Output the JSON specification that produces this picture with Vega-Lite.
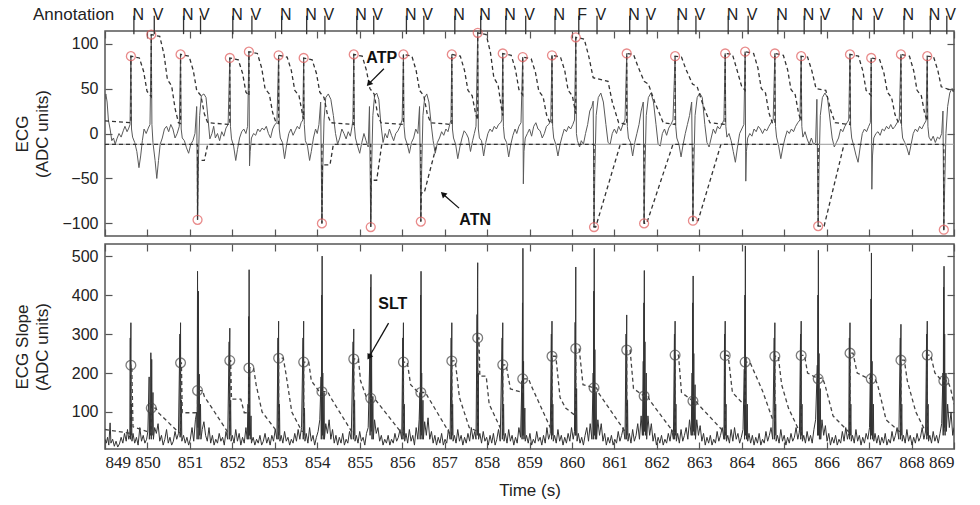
{
"$schema": "https://vega.github.io/schema/vega-lite/v6.json",
"padding": {"left": 12, "top": 5, "right": 0, "bottom": 0},
"spacing": 4,
"config": {
  "font": "Liberation Sans",
  "view": {"stroke": "#555", "strokeWidth": 1.5},
  "axis": {"grid": false, "domain": false, "tickColor": "#555", "tickWidth": 1.2, "tickSize": -7, "labelPadding": 14,
           "labelFont": "Liberation Sans", "titleFont": "Liberation Sans", "labelFontSize": 16, "titleFontSize": 17,
           "labelColor": "#222", "titleColor": "#222", "titleFontWeight": "normal"}
},
"datasets": {
"beats": [
{"t":849.61,"lab":"N","top":86,"sc":220},{"t":850.09,"lab":"V","top":110,"sc":110},{"t":850.78,"lab":"N","top":88,"sc":226},
{"t":851.18,"lab":"V","top":-96,"sc":155},{"t":851.94,"lab":"N","top":84,"sc":232},{"t":852.39,"lab":"V","top":91,"sc":213},
{"t":853.09,"lab":"N","top":87,"sc":238},{"t":853.68,"lab":"N","top":84,"sc":228},{"t":854.11,"lab":"V","top":-100,"sc":152},
{"t":854.86,"lab":"N","top":88,"sc":236},{"t":855.26,"lab":"V","top":-104,"sc":135},{"t":856.03,"lab":"N","top":88,"sc":228},
{"t":856.44,"lab":"V","top":-98,"sc":150},{"t":857.17,"lab":"N","top":88,"sc":231},{"t":857.78,"lab":"N","top":112,"sc":290},
{"t":858.37,"lab":"N","top":89,"sc":221},{"t":858.84,"lab":"V","top":85,"sc":185},{"t":859.53,"lab":"N","top":87,"sc":243},
{"t":860.09,"lab":"F","top":107,"sc":263},{"t":860.52,"lab":"V","top":-104,"sc":162},{"t":861.29,"lab":"N","top":89,"sc":259},
{"t":861.70,"lab":"V","top":-100,"sc":141},{"t":862.43,"lab":"N","top":86,"sc":246},{"t":862.85,"lab":"V","top":-97,"sc":128},
{"t":863.61,"lab":"N","top":89,"sc":245},{"t":864.08,"lab":"V","top":91,"sc":228},{"t":864.78,"lab":"N","top":89,"sc":243},
{"t":865.40,"lab":"N","top":86,"sc":245},{"t":865.80,"lab":"V","top":-103,"sc":185},{"t":866.55,"lab":"N","top":88,"sc":251},
{"t":867.05,"lab":"V","top":84,"sc":185},{"t":867.75,"lab":"N","top":88,"sc":233},{"t":868.37,"lab":"N","top":86,"sc":246},
{"t":868.76,"lab":"V","top":-107,"sc":180}
],
"ecg": [
{"t":849.00,"v":38},{"t":849.02,"v":44},{"t":849.05,"v":35},{"t":849.08,"v":15},{"t":849.12,"v":5},{"t":849.16,"v":-8},{"t":849.20,"v":-5},{"t":849.24,"v":-12},{"t":849.28,"v":-6},{"t":849.33,"v":0},{"t":849.38,"v":-4},{"t":849.43,"v":3},{"t":849.47,"v":8},{"t":849.52,"v":2},{"t":849.56,"v":6},{"t":849.59,"v":10},
{"t":849.61,"v":86},{"t":849.625,"v":5},{"t":849.65,"v":-4},{"t":849.70,"v":-10},{"t":849.75,"v":-20},{"t":849.80,"v":-38},{"t":849.84,"v":-25},{"t":849.88,"v":-8},{"t":849.92,"v":5},{"t":849.97,"v":0},{"t":850.02,"v":6},{"t":850.06,"v":10},
{"t":850.09,"v":110},{"t":850.105,"v":10},{"t":850.13,"v":-10},{"t":850.18,"v":-30},{"t":850.22,"v":-50},{"t":850.26,"v":-30},{"t":850.30,"v":-12},{"t":850.35,"v":-5},{"t":850.40,"v":5},{"t":850.45,"v":8},{"t":850.50,"v":2},{"t":850.55,"v":10},{"t":850.60,"v":5},{"t":850.65,"v":-5},{"t":850.70,"v":0},{"t":850.75,"v":8},
{"t":850.78,"v":88},{"t":850.795,"v":5},{"t":850.82,"v":-5},{"t":850.87,"v":-8},{"t":850.92,"v":-16},{"t":850.97,"v":-22},{"t":851.02,"v":-12},{"t":851.07,"v":-8},{"t":851.12,"v":0},{"t":851.16,"v":30},
{"t":851.18,"v":-96},{"t":851.20,"v":-30},{"t":851.23,"v":20},{"t":851.27,"v":42},{"t":851.33,"v":44},{"t":851.38,"v":40},{"t":851.43,"v":15},{"t":851.47,"v":-6},{"t":851.52,"v":0},{"t":851.56,"v":8},{"t":851.60,"v":-5},{"t":851.65,"v":0},{"t":851.70,"v":-8},{"t":851.75,"v":2},{"t":851.80,"v":-3},{"t":851.85,"v":6},{"t":851.90,"v":10},
{"t":851.94,"v":84},{"t":851.955,"v":8},{"t":851.98,"v":-6},{"t":852.03,"v":-14},{"t":852.08,"v":-30},{"t":852.12,"v":-18},{"t":852.17,"v":-5},{"t":852.22,"v":2},{"t":852.27,"v":5},{"t":852.32,"v":0},{"t":852.36,"v":8},
{"t":852.39,"v":91},{"t":852.405,"v":-36},{"t":852.42,"v":-20},{"t":852.45,"v":-5},{"t":852.50,"v":0},{"t":852.55,"v":-2},{"t":852.60,"v":5},{"t":852.65,"v":2},{"t":852.70,"v":6},{"t":852.75,"v":4},{"t":852.80,"v":8},{"t":852.85,"v":0},{"t":852.90,"v":-5},{"t":852.95,"v":5},{"t":853.00,"v":10},{"t":853.05,"v":12},
{"t":853.09,"v":87},{"t":853.105,"v":5},{"t":853.13,"v":-5},{"t":853.18,"v":-10},{"t":853.23,"v":-28},{"t":853.28,"v":-12},{"t":853.33,"v":0},{"t":853.38,"v":5},{"t":853.43,"v":-2},{"t":853.48,"v":3},{"t":853.53,"v":8},{"t":853.58,"v":5},{"t":853.62,"v":12},{"t":853.66,"v":15},
{"t":853.68,"v":84},{"t":853.695,"v":10},{"t":853.72,"v":-8},{"t":853.77,"v":-14},{"t":853.82,"v":-30},{"t":853.86,"v":-20},{"t":853.91,"v":-5},{"t":853.96,"v":5},{"t":854.00,"v":0},{"t":854.04,"v":10},{"t":854.08,"v":35},
{"t":854.11,"v":-100},{"t":854.13,"v":-40},{"t":854.16,"v":15},{"t":854.20,"v":40},{"t":854.26,"v":44},{"t":854.32,"v":38},{"t":854.38,"v":20},{"t":854.43,"v":0},{"t":854.48,"v":-12},{"t":854.53,"v":-5},{"t":854.58,"v":5},{"t":854.63,"v":0},{"t":854.68,"v":-6},{"t":854.73,"v":2},{"t":854.78,"v":-3},{"t":854.82,"v":8},{"t":854.84,"v":15},
{"t":854.86,"v":88},{"t":854.875,"v":8},{"t":854.90,"v":-5},{"t":854.95,"v":-14},{"t":855.00,"v":-22},{"t":855.05,"v":-10},{"t":855.10,"v":0},{"t":855.15,"v":-8},{"t":855.20,"v":-15},{"t":855.23,"v":30},
{"t":855.26,"v":-104},{"t":855.28,"v":-40},{"t":855.31,"v":20},{"t":855.35,"v":42},{"t":855.40,"v":45},{"t":855.45,"v":38},{"t":855.50,"v":10},{"t":855.55,"v":-10},{"t":855.60,"v":0},{"t":855.65,"v":-5},{"t":855.70,"v":5},{"t":855.75,"v":-2},{"t":855.80,"v":-8},{"t":855.85,"v":0},{"t":855.90,"v":3},{"t":855.95,"v":8},{"t":856.00,"v":15},
{"t":856.03,"v":88},{"t":856.045,"v":8},{"t":856.07,"v":-5},{"t":856.12,"v":-12},{"t":856.17,"v":-22},{"t":856.22,"v":-10},{"t":856.27,"v":-5},{"t":856.32,"v":5},{"t":856.37,"v":0},{"t":856.41,"v":30},
{"t":856.44,"v":-98},{"t":856.46,"v":-40},{"t":856.49,"v":20},{"t":856.53,"v":40},{"t":856.58,"v":44},{"t":856.63,"v":35},{"t":856.68,"v":12},{"t":856.73,"v":-8},{"t":856.78,"v":-22},{"t":856.83,"v":-10},{"t":856.88,"v":-5},{"t":856.93,"v":2},{"t":856.98,"v":-2},{"t":857.03,"v":5},{"t":857.08,"v":2},{"t":857.12,"v":10},{"t":857.15,"v":15},
{"t":857.17,"v":88},{"t":857.185,"v":5},{"t":857.21,"v":-5},{"t":857.26,"v":-12},{"t":857.31,"v":-28},{"t":857.36,"v":-15},{"t":857.41,"v":-5},{"t":857.46,"v":3},{"t":857.51,"v":0},{"t":857.56,"v":-5},{"t":857.61,"v":-20},{"t":857.66,"v":-8},{"t":857.70,"v":0},{"t":857.74,"v":8},
{"t":857.78,"v":112},{"t":857.795,"v":5},{"t":857.82,"v":-5},{"t":857.87,"v":-8},{"t":857.92,"v":-25},{"t":857.97,"v":-10},{"t":858.02,"v":0},{"t":858.07,"v":5},{"t":858.12,"v":2},{"t":858.17,"v":8},{"t":858.22,"v":5},{"t":858.27,"v":10},{"t":858.32,"v":12},{"t":858.35,"v":15},
{"t":858.37,"v":89},{"t":858.385,"v":8},{"t":858.41,"v":-5},{"t":858.46,"v":-10},{"t":858.51,"v":-26},{"t":858.56,"v":-12},{"t":858.61,"v":-2},{"t":858.66,"v":5},{"t":858.70,"v":0},{"t":858.75,"v":8},{"t":858.80,"v":12},
{"t":858.84,"v":85},{"t":858.855,"v":-56},{"t":858.87,"v":-20},{"t":858.90,"v":-5},{"t":858.95,"v":0},{"t":859.00,"v":5},{"t":859.05,"v":-3},{"t":859.10,"v":8},{"t":859.15,"v":12},{"t":859.20,"v":5},{"t":859.25,"v":3},{"t":859.30,"v":-5},{"t":859.35,"v":0},{"t":859.40,"v":8},{"t":859.45,"v":10},{"t":859.50,"v":14},
{"t":859.53,"v":87},{"t":859.545,"v":8},{"t":859.57,"v":-5},{"t":859.62,"v":-12},{"t":859.67,"v":-25},{"t":859.72,"v":-12},{"t":859.77,"v":-3},{"t":859.82,"v":5},{"t":859.87,"v":2},{"t":859.92,"v":8},{"t":859.97,"v":5},{"t":860.02,"v":10},{"t":860.06,"v":15},
{"t":860.09,"v":107},{"t":860.105,"v":0},{"t":860.13,"v":-8},{"t":860.18,"v":-15},{"t":860.22,"v":-8},{"t":860.27,"v":-12},{"t":860.32,"v":0},{"t":860.37,"v":10},{"t":860.42,"v":25},{"t":860.47,"v":30},{"t":860.50,"v":36},
{"t":860.52,"v":-104},{"t":860.54,"v":-40},{"t":860.57,"v":20},{"t":860.62,"v":40},{"t":860.68,"v":45},{"t":860.74,"v":35},{"t":860.80,"v":10},{"t":860.85,"v":-10},{"t":860.90,"v":-12},{"t":860.95,"v":0},{"t":861.00,"v":5},{"t":861.05,"v":0},{"t":861.10,"v":8},{"t":861.15,"v":3},{"t":861.20,"v":10},{"t":861.25,"v":15},
{"t":861.29,"v":89},{"t":861.305,"v":8},{"t":861.33,"v":-5},{"t":861.38,"v":-10},{"t":861.43,"v":-25},{"t":861.48,"v":-10},{"t":861.53,"v":0},{"t":861.58,"v":10},{"t":861.63,"v":25},{"t":861.68,"v":35},
{"t":861.70,"v":-100},{"t":861.72,"v":-40},{"t":861.75,"v":20},{"t":861.80,"v":40},{"t":861.86,"v":45},{"t":861.92,"v":35},{"t":861.98,"v":10},{"t":862.03,"v":-12},{"t":862.08,"v":-14},{"t":862.13,"v":0},{"t":862.18,"v":5},{"t":862.23,"v":-2},{"t":862.28,"v":6},{"t":862.33,"v":10},{"t":862.38,"v":15},
{"t":862.43,"v":86},{"t":862.445,"v":8},{"t":862.47,"v":-5},{"t":862.52,"v":-12},{"t":862.57,"v":-26},{"t":862.62,"v":-12},{"t":862.67,"v":0},{"t":862.72,"v":10},{"t":862.77,"v":20},{"t":862.82,"v":35},
{"t":862.85,"v":-97},{"t":862.87,"v":-40},{"t":862.90,"v":20},{"t":862.95,"v":40},{"t":863.01,"v":45},{"t":863.07,"v":40},{"t":863.13,"v":10},{"t":863.18,"v":-10},{"t":863.23,"v":-15},{"t":863.28,"v":-5},{"t":863.33,"v":5},{"t":863.38,"v":0},{"t":863.43,"v":8},{"t":863.48,"v":5},{"t":863.53,"v":10},{"t":863.58,"v":15},
{"t":863.61,"v":89},{"t":863.625,"v":8},{"t":863.65,"v":-4},{"t":863.70,"v":0},{"t":863.75,"v":-8},{"t":863.80,"v":-20},{"t":863.85,"v":-32},{"t":863.90,"v":-15},{"t":863.95,"v":0},{"t":864.00,"v":5},{"t":864.05,"v":10},
{"t":864.08,"v":91},{"t":864.095,"v":-53},{"t":864.11,"v":-20},{"t":864.14,"v":-5},{"t":864.19,"v":0},{"t":864.24,"v":-3},{"t":864.29,"v":5},{"t":864.34,"v":2},{"t":864.39,"v":8},{"t":864.44,"v":5},{"t":864.49,"v":0},{"t":864.54,"v":5},{"t":864.59,"v":3},{"t":864.64,"v":8},{"t":864.69,"v":12},{"t":864.74,"v":15},
{"t":864.78,"v":89},{"t":864.795,"v":8},{"t":864.82,"v":-4},{"t":864.87,"v":-14},{"t":864.92,"v":-28},{"t":864.97,"v":-15},{"t":865.02,"v":-5},{"t":865.07,"v":3},{"t":865.12,"v":0},{"t":865.17,"v":5},{"t":865.22,"v":2},{"t":865.27,"v":8},{"t":865.32,"v":12},{"t":865.37,"v":15},
{"t":865.40,"v":86},{"t":865.415,"v":8},{"t":865.44,"v":-4},{"t":865.49,"v":2},{"t":865.54,"v":-6},{"t":865.59,"v":-12},{"t":865.64,"v":-5},{"t":865.69,"v":-12},{"t":865.74,"v":-10},{"t":865.77,"v":38},
{"t":865.80,"v":-103},{"t":865.82,"v":-40},{"t":865.85,"v":20},{"t":865.90,"v":40},{"t":865.96,"v":45},{"t":866.02,"v":40},{"t":866.08,"v":15},{"t":866.13,"v":-5},{"t":866.18,"v":-15},{"t":866.23,"v":-10},{"t":866.28,"v":-5},{"t":866.33,"v":5},{"t":866.38,"v":2},{"t":866.43,"v":8},{"t":866.48,"v":12},{"t":866.52,"v":15},
{"t":866.55,"v":88},{"t":866.565,"v":8},{"t":866.59,"v":-5},{"t":866.64,"v":-14},{"t":866.69,"v":-24},{"t":866.74,"v":-32},{"t":866.79,"v":-15},{"t":866.84,"v":0},{"t":866.89,"v":5},{"t":866.94,"v":2},{"t":866.99,"v":8},{"t":867.03,"v":12},
{"t":867.05,"v":84},{"t":867.065,"v":-62},{"t":867.08,"v":-25},{"t":867.11,"v":-5},{"t":867.16,"v":0},{"t":867.21,"v":2},{"t":867.26,"v":-2},{"t":867.31,"v":5},{"t":867.36,"v":3},{"t":867.41,"v":8},{"t":867.46,"v":5},{"t":867.51,"v":10},{"t":867.56,"v":5},{"t":867.61,"v":8},{"t":867.66,"v":12},{"t":867.71,"v":15},
{"t":867.75,"v":88},{"t":867.765,"v":8},{"t":867.79,"v":-5},{"t":867.84,"v":-10},{"t":867.89,"v":-16},{"t":867.94,"v":-24},{"t":867.99,"v":-12},{"t":868.04,"v":0},{"t":868.09,"v":5},{"t":868.14,"v":2},{"t":868.19,"v":8},{"t":868.24,"v":5},{"t":868.29,"v":10},{"t":868.34,"v":14},
{"t":868.37,"v":86},{"t":868.385,"v":8},{"t":868.41,"v":-4},{"t":868.46,"v":-8},{"t":868.51,"v":-3},{"t":868.56,"v":-10},{"t":868.61,"v":-4},{"t":868.66,"v":-6},{"t":868.71,"v":0},{"t":868.74,"v":25},
{"t":868.76,"v":-107},{"t":868.78,"v":-60},{"t":868.81,"v":0},{"t":868.85,"v":30},{"t":868.90,"v":45},{"t":868.95,"v":50},{"t":869.00,"v":48}
],
"atp": [
{"t":849.00,"v":14},{"t":849.61,"v":12},{"t":849.61,"v":86},{"t":849.81,"v":84},{"t":849.91,"v":69},{"t":849.99,"v":47},{"t":850.09,"v":41},{"t":850.09,"v":110},
{"t":850.29,"v":108},{"t":850.39,"v":88},{"t":850.47,"v":60},{"t":850.57,"v":53},{"t":850.65,"v":28},{"t":850.73,"v":12},{"t":850.78,"v":11},{"t":850.78,"v":88},
{"t":850.98,"v":86},{"t":851.08,"v":70},{"t":851.16,"v":48},{"t":851.26,"v":42},{"t":851.34,"v":22},{"t":851.42,"v":12},{"t":851.94,"v":10},{"t":851.94,"v":84},
{"t":852.14,"v":82},{"t":852.24,"v":67},{"t":852.32,"v":46},{"t":852.39,"v":42},{"t":852.39,"v":91},
{"t":852.59,"v":89},{"t":852.69,"v":73},{"t":852.77,"v":50},{"t":852.87,"v":44},{"t":852.95,"v":23},{"t":853.03,"v":12},{"t":853.09,"v":11},{"t":853.09,"v":87},
{"t":853.29,"v":85},{"t":853.39,"v":70},{"t":853.47,"v":48},{"t":853.57,"v":42},{"t":853.65,"v":22},{"t":853.68,"v":16},{"t":853.68,"v":84},
{"t":853.88,"v":82},{"t":853.98,"v":67},{"t":854.06,"v":46},{"t":854.16,"v":40},{"t":854.24,"v":21},{"t":854.32,"v":12},{"t":854.86,"v":10},{"t":854.86,"v":88},
{"t":855.06,"v":86},{"t":855.16,"v":70},{"t":855.24,"v":50},{"t":855.34,"v":44},{"t":855.42,"v":22},{"t":855.50,"v":12},{"t":856.03,"v":10},{"t":856.03,"v":88},
{"t":856.23,"v":86},{"t":856.33,"v":70},{"t":856.41,"v":48},{"t":856.51,"v":42},{"t":856.59,"v":22},{"t":856.67,"v":12},{"t":857.17,"v":10},{"t":857.17,"v":88},
{"t":857.37,"v":86},{"t":857.47,"v":70},{"t":857.55,"v":48},{"t":857.65,"v":42},{"t":857.73,"v":22},{"t":857.78,"v":15},{"t":857.78,"v":112},
{"t":857.98,"v":110},{"t":858.08,"v":90},{"t":858.16,"v":62},{"t":858.26,"v":54},{"t":858.34,"v":28},{"t":858.37,"v":20},{"t":858.37,"v":89},
{"t":858.57,"v":87},{"t":858.67,"v":71},{"t":858.75,"v":49},{"t":858.84,"v":43},{"t":858.84,"v":85},
{"t":859.04,"v":83},{"t":859.14,"v":68},{"t":859.22,"v":47},{"t":859.32,"v":41},{"t":859.40,"v":21},{"t":859.48,"v":12},{"t":859.53,"v":11},{"t":859.53,"v":87},
{"t":859.73,"v":85},{"t":859.83,"v":70},{"t":859.91,"v":48},{"t":860.01,"v":42},{"t":860.09,"v":22},{"t":860.09,"v":107},
{"t":860.29,"v":105},{"t":860.40,"v":85},{"t":860.50,"v":62},{"t":860.85,"v":58},{"t":860.95,"v":35},{"t":861.10,"v":12},{"t":861.29,"v":10},{"t":861.29,"v":89},
{"t":861.45,"v":88},{"t":861.55,"v":75},{"t":861.70,"v":58},{"t":861.80,"v":55},{"t":861.95,"v":35},{"t":862.15,"v":12},{"t":862.43,"v":10},{"t":862.43,"v":86},
{"t":862.58,"v":85},{"t":862.68,"v":72},{"t":862.84,"v":55},{"t":862.95,"v":52},{"t":863.10,"v":30},{"t":863.25,"v":12},{"t":863.61,"v":10},{"t":863.61,"v":89},
{"t":863.78,"v":88},{"t":863.88,"v":72},{"t":864.00,"v":52},{"t":864.08,"v":48},{"t":864.08,"v":91},
{"t":864.28,"v":89},{"t":864.38,"v":73},{"t":864.46,"v":50},{"t":864.56,"v":45},{"t":864.64,"v":23},{"t":864.72,"v":12},{"t":864.78,"v":11},{"t":864.78,"v":89},
{"t":864.98,"v":87},{"t":865.08,"v":71},{"t":865.16,"v":49},{"t":865.26,"v":43},{"t":865.34,"v":22},{"t":865.40,"v":14},{"t":865.40,"v":86},
{"t":865.55,"v":85},{"t":865.65,"v":70},{"t":865.75,"v":50},{"t":865.98,"v":48},{"t":866.10,"v":25},{"t":866.20,"v":12},{"t":866.55,"v":10},{"t":866.55,"v":88},
{"t":866.75,"v":86},{"t":866.85,"v":70},{"t":866.93,"v":48},{"t":867.05,"v":42},{"t":867.05,"v":84},
{"t":867.25,"v":82},{"t":867.35,"v":67},{"t":867.43,"v":46},{"t":867.53,"v":40},{"t":867.61,"v":21},{"t":867.69,"v":12},{"t":867.75,"v":11},{"t":867.75,"v":88},
{"t":867.95,"v":86},{"t":868.05,"v":70},{"t":868.13,"v":48},{"t":868.23,"v":42},{"t":868.31,"v":22},{"t":868.37,"v":14},{"t":868.37,"v":86},
{"t":868.52,"v":85},{"t":868.62,"v":70},{"t":868.70,"v":52},{"t":869.00,"v":47}
],
"atn": [
{"t":849.00,"v":-12},{"t":851.18,"v":-12},{"t":851.18,"v":-96},{"t":851.19,"v":-30},{"t":851.34,"v":-30},{"t":851.42,"v":-12},
{"t":854.11,"v":-12},{"t":854.11,"v":-100},{"t":854.12,"v":-35},{"t":854.30,"v":-35},{"t":854.38,"v":-12},
{"t":855.26,"v":-12},{"t":855.26,"v":-104},{"t":855.27,"v":-52},{"t":855.40,"v":-52},{"t":855.52,"v":-12},
{"t":856.44,"v":-12},{"t":856.44,"v":-98},{"t":856.45,"v":-66},{"t":856.52,"v":-66},{"t":856.80,"v":-15},{"t":856.84,"v":-12},
{"t":860.52,"v":-12},{"t":860.52,"v":-104},{"t":860.56,"v":-104},{"t":861.14,"v":-12},
{"t":861.70,"v":-12},{"t":861.70,"v":-100},{"t":861.76,"v":-100},{"t":862.38,"v":-12},
{"t":862.85,"v":-12},{"t":862.85,"v":-97},{"t":862.97,"v":-97},{"t":863.51,"v":-12},
{"t":865.80,"v":-12},{"t":865.80,"v":-103},{"t":865.94,"v":-103},{"t":866.41,"v":-12},
{"t":868.76,"v":-12},{"t":868.76,"v":-107},{"t":868.80,"v":-107}
],
"slope": [
{"t":849.00,"v":30},{"t":849.03,"v":20},{"t":849.06,"v":35},{"t":849.09,"v":15},{"t":849.12,"v":72},{"t":849.14,"v":20},{"t":849.18,"v":30},{"t":849.22,"v":12},{"t":849.26,"v":25},{"t":849.30,"v":10},{"t":849.34,"v":18},{"t":849.38,"v":35},{"t":849.42,"v":20},{"t":849.46,"v":45},{"t":849.50,"v":25},{"t":849.53,"v":55},{"t":849.56,"v":30},
{"t":849.585,"v":40},{"t":849.595,"v":290},{"t":849.60,"v":30},{"t":849.605,"v":250},{"t":849.61,"v":329},{"t":849.615,"v":40},{"t":849.625,"v":120},{"t":849.635,"v":25},
{"t":849.66,"v":45},{"t":849.70,"v":20},{"t":849.74,"v":35},{"t":849.78,"v":15},{"t":849.82,"v":60},{"t":849.86,"v":25},{"t":849.90,"v":40},{"t":849.94,"v":20},{"t":849.98,"v":30},{"t":850.01,"v":50},
{"t":850.04,"v":190},{"t":850.045,"v":30},{"t":850.06,"v":100},{"t":850.07,"v":40},{"t":850.08,"v":252},{"t":850.09,"v":30},{"t":850.10,"v":235},{"t":850.11,"v":40},{"t":850.13,"v":150},{"t":850.14,"v":30},
{"t":850.17,"v":60},{"t":850.21,"v":45},{"t":850.25,"v":70},{"t":850.29,"v":25},{"t":850.33,"v":40},{"t":850.37,"v":15},{"t":850.41,"v":30},{"t":850.45,"v":55},{"t":850.49,"v":20},{"t":850.53,"v":35},{"t":850.57,"v":15},{"t":850.61,"v":25},{"t":850.65,"v":50},{"t":850.69,"v":30},{"t":850.73,"v":45},
{"t":850.765,"v":300},{"t":850.77,"v":35},{"t":850.775,"v":260},{"t":850.78,"v":329},{"t":850.785,"v":40},{"t":850.80,"v":130},{"t":850.81,"v":25},
{"t":850.85,"v":40},{"t":850.89,"v":20},{"t":850.93,"v":35},{"t":850.97,"v":15},{"t":851.01,"v":30},{"t":851.05,"v":60},{"t":851.09,"v":25},{"t":851.13,"v":80},
{"t":851.16,"v":100},{"t":851.17,"v":30},{"t":851.18,"v":461},{"t":851.19,"v":60},{"t":851.20,"v":410},{"t":851.21,"v":30},{"t":851.22,"v":197},{"t":851.23,"v":40},{"t":851.25,"v":120},{"t":851.26,"v":30},
{"t":851.29,"v":55},{"t":851.33,"v":75},{"t":851.37,"v":40},{"t":851.41,"v":25},{"t":851.45,"v":60},{"t":851.49,"v":20},{"t":851.53,"v":40},{"t":851.57,"v":15},{"t":851.61,"v":30},{"t":851.65,"v":20},{"t":851.69,"v":45},{"t":851.73,"v":25},{"t":851.77,"v":35},{"t":851.81,"v":15},{"t":851.85,"v":50},{"t":851.89,"v":30},
{"t":851.925,"v":280},{"t":851.93,"v":30},{"t":851.935,"v":260},{"t":851.94,"v":315},{"t":851.945,"v":40},{"t":851.96,"v":130},{"t":851.97,"v":25},
{"t":852.00,"v":40},{"t":852.04,"v":20},{"t":852.08,"v":55},{"t":852.12,"v":25},{"t":852.16,"v":45},{"t":852.20,"v":15},{"t":852.24,"v":35},{"t":852.28,"v":20},{"t":852.32,"v":60},{"t":852.35,"v":30},
{"t":852.37,"v":120},{"t":852.375,"v":30},{"t":852.385,"v":345},{"t":852.39,"v":40},{"t":852.395,"v":465},{"t":852.40,"v":40},{"t":852.41,"v":210},{"t":852.42,"v":30},{"t":852.44,"v":90},{"t":852.45,"v":20},
{"t":852.49,"v":35},{"t":852.53,"v":15},{"t":852.57,"v":30},{"t":852.61,"v":20},{"t":852.65,"v":40},{"t":852.69,"v":15},{"t":852.73,"v":25},{"t":852.77,"v":45},{"t":852.81,"v":20},{"t":852.85,"v":35},{"t":852.89,"v":15},{"t":852.93,"v":40},{"t":852.97,"v":25},{"t":853.01,"v":55},{"t":853.05,"v":30},
{"t":853.075,"v":290},{"t":853.08,"v":30},{"t":853.085,"v":270},{"t":853.09,"v":333},{"t":853.095,"v":40},{"t":853.11,"v":120},{"t":853.12,"v":25},
{"t":853.15,"v":40},{"t":853.19,"v":20},{"t":853.23,"v":50},{"t":853.27,"v":25},{"t":853.31,"v":35},{"t":853.35,"v":15},{"t":853.39,"v":30},{"t":853.43,"v":20},{"t":853.47,"v":45},{"t":853.51,"v":25},{"t":853.55,"v":55},{"t":853.59,"v":30},{"t":853.63,"v":60},
{"t":853.665,"v":290},{"t":853.67,"v":30},{"t":853.675,"v":270},{"t":853.68,"v":333},{"t":853.685,"v":40},{"t":853.70,"v":110},{"t":853.71,"v":25},
{"t":853.74,"v":45},{"t":853.78,"v":20},{"t":853.82,"v":60},{"t":853.86,"v":25},{"t":853.90,"v":40},{"t":853.94,"v":15},{"t":853.98,"v":35},{"t":854.02,"v":50},{"t":854.06,"v":80},
{"t":854.09,"v":190},{"t":854.095,"v":30},{"t":854.105,"v":400},{"t":854.11,"v":50},{"t":854.115,"v":500},{"t":854.12,"v":40},{"t":854.13,"v":200},{"t":854.14,"v":30},{"t":854.16,"v":150},{"t":854.17,"v":30},
{"t":854.20,"v":70},{"t":854.24,"v":45},{"t":854.28,"v":80},{"t":854.32,"v":30},{"t":854.36,"v":55},{"t":854.40,"v":20},{"t":854.44,"v":40},{"t":854.48,"v":15},{"t":854.52,"v":35},{"t":854.56,"v":20},{"t":854.60,"v":45},{"t":854.64,"v":15},{"t":854.68,"v":30},{"t":854.72,"v":20},{"t":854.76,"v":50},{"t":854.80,"v":30},
{"t":854.845,"v":280},{"t":854.85,"v":30},{"t":854.855,"v":240},{"t":854.86,"v":313},{"t":854.865,"v":40},{"t":854.88,"v":130},{"t":854.89,"v":25},
{"t":854.92,"v":40},{"t":854.96,"v":20},{"t":855.00,"v":50},{"t":855.04,"v":25},{"t":855.08,"v":35},{"t":855.12,"v":15},{"t":855.16,"v":45},{"t":855.20,"v":60},
{"t":855.24,"v":250},{"t":855.245,"v":40},{"t":855.255,"v":420},{"t":855.26,"v":60},{"t":855.265,"v":453},{"t":855.27,"v":50},{"t":855.28,"v":250},{"t":855.29,"v":30},{"t":855.31,"v":140},{"t":855.32,"v":30},
{"t":855.35,"v":80},{"t":855.39,"v":45},{"t":855.43,"v":60},{"t":855.47,"v":25},{"t":855.51,"v":40},{"t":855.55,"v":15},{"t":855.59,"v":30},{"t":855.63,"v":20},{"t":855.67,"v":40},{"t":855.71,"v":15},{"t":855.75,"v":30},{"t":855.79,"v":20},{"t":855.83,"v":45},{"t":855.87,"v":25},{"t":855.91,"v":35},{"t":855.95,"v":55},{"t":855.99,"v":30},
{"t":856.015,"v":290},{"t":856.02,"v":30},{"t":856.025,"v":260},{"t":856.03,"v":329},{"t":856.035,"v":40},{"t":856.05,"v":120},{"t":856.06,"v":25},
{"t":856.09,"v":45},{"t":856.13,"v":20},{"t":856.17,"v":55},{"t":856.21,"v":25},{"t":856.25,"v":40},{"t":856.29,"v":15},{"t":856.33,"v":60},{"t":856.37,"v":30},{"t":856.40,"v":80},
{"t":856.42,"v":150},{"t":856.425,"v":30},{"t":856.435,"v":400},{"t":856.44,"v":50},{"t":856.445,"v":461},{"t":856.45,"v":40},{"t":856.46,"v":200},{"t":856.47,"v":30},{"t":856.49,"v":130},{"t":856.50,"v":30},
{"t":856.53,"v":75},{"t":856.57,"v":40},{"t":856.61,"v":85},{"t":856.65,"v":30},{"t":856.69,"v":50},{"t":856.73,"v":20},{"t":856.77,"v":40},{"t":856.81,"v":15},{"t":856.85,"v":35},{"t":856.89,"v":20},{"t":856.93,"v":45},{"t":856.97,"v":15},{"t":857.01,"v":30},{"t":857.05,"v":20},{"t":857.09,"v":55},{"t":857.13,"v":30},
{"t":857.155,"v":290},{"t":857.16,"v":30},{"t":857.165,"v":260},{"t":857.17,"v":329},{"t":857.175,"v":40},{"t":857.19,"v":120},{"t":857.20,"v":25},
{"t":857.23,"v":40},{"t":857.27,"v":20},{"t":857.31,"v":55},{"t":857.35,"v":25},{"t":857.39,"v":40},{"t":857.43,"v":15},{"t":857.47,"v":35},{"t":857.51,"v":20},{"t":857.55,"v":45},{"t":857.59,"v":25},{"t":857.63,"v":60},{"t":857.67,"v":30},{"t":857.71,"v":50},{"t":857.74,"v":30},
{"t":857.765,"v":350},{"t":857.77,"v":40},{"t":857.775,"v":420},{"t":857.78,"v":483},{"t":857.785,"v":50},{"t":857.795,"v":200},{"t":857.80,"v":30},
{"t":857.83,"v":45},{"t":857.87,"v":20},{"t":857.91,"v":50},{"t":857.95,"v":25},{"t":857.99,"v":35},{"t":858.03,"v":15},{"t":858.07,"v":40},{"t":858.11,"v":20},{"t":858.15,"v":45},{"t":858.19,"v":15},{"t":858.23,"v":30},{"t":858.27,"v":55},{"t":858.31,"v":25},
{"t":858.355,"v":290},{"t":858.36,"v":30},{"t":858.365,"v":260},{"t":858.37,"v":329},{"t":858.375,"v":40},{"t":858.39,"v":120},{"t":858.40,"v":25},
{"t":858.43,"v":45},{"t":858.47,"v":20},{"t":858.51,"v":55},{"t":858.55,"v":25},{"t":858.59,"v":40},{"t":858.63,"v":15},{"t":858.67,"v":35},{"t":858.71,"v":20},{"t":858.75,"v":60},{"t":858.79,"v":35},
{"t":858.82,"v":180},{"t":858.825,"v":30},{"t":858.835,"v":380},{"t":858.84,"v":40},{"t":858.845,"v":520},{"t":858.85,"v":40},{"t":858.86,"v":230},{"t":858.87,"v":30},{"t":858.89,"v":110},{"t":858.90,"v":25},
{"t":858.93,"v":40},{"t":858.97,"v":20},{"t":859.01,"v":45},{"t":859.05,"v":15},{"t":859.09,"v":30},{"t":859.13,"v":20},{"t":859.17,"v":50},{"t":859.21,"v":25},{"t":859.25,"v":35},{"t":859.29,"v":15},{"t":859.33,"v":40},{"t":859.37,"v":20},{"t":859.41,"v":60},{"t":859.45,"v":30},{"t":859.49,"v":45},
{"t":859.515,"v":300},{"t":859.52,"v":30},{"t":859.525,"v":270},{"t":859.53,"v":333},{"t":859.535,"v":40},{"t":859.55,"v":120},{"t":859.56,"v":25},
{"t":859.59,"v":40},{"t":859.63,"v":20},{"t":859.67,"v":55},{"t":859.71,"v":25},{"t":859.75,"v":40},{"t":859.79,"v":15},{"t":859.83,"v":35},{"t":859.87,"v":20},{"t":859.91,"v":45},{"t":859.95,"v":25},{"t":859.99,"v":60},{"t":860.03,"v":30},{"t":860.06,"v":50},
{"t":860.075,"v":330},{"t":860.08,"v":40},{"t":860.085,"v":300},{"t":860.09,"v":472},{"t":860.095,"v":40},{"t":860.11,"v":160},{"t":860.12,"v":25},
{"t":860.15,"v":45},{"t":860.19,"v":20},{"t":860.23,"v":35},{"t":860.27,"v":15},{"t":860.31,"v":40},{"t":860.35,"v":60},{"t":860.39,"v":25},{"t":860.43,"v":70},{"t":860.47,"v":30},
{"t":860.50,"v":200},{"t":860.505,"v":30},{"t":860.515,"v":410},{"t":860.52,"v":50},{"t":860.525,"v":520},{"t":860.53,"v":40},{"t":860.54,"v":260},{"t":860.55,"v":30},{"t":860.57,"v":150},{"t":860.58,"v":30},
{"t":860.61,"v":80},{"t":860.65,"v":40},{"t":860.69,"v":70},{"t":860.73,"v":25},{"t":860.77,"v":45},{"t":860.81,"v":15},{"t":860.85,"v":35},{"t":860.89,"v":20},{"t":860.93,"v":40},{"t":860.97,"v":15},{"t":861.01,"v":30},{"t":861.05,"v":20},{"t":861.09,"v":50},{"t":861.13,"v":25},{"t":861.17,"v":40},{"t":861.21,"v":60},{"t":861.25,"v":30},
{"t":861.275,"v":300},{"t":861.28,"v":30},{"t":861.285,"v":270},{"t":861.29,"v":349},{"t":861.295,"v":40},{"t":861.31,"v":130},{"t":861.32,"v":25},
{"t":861.35,"v":45},{"t":861.39,"v":20},{"t":861.43,"v":55},{"t":861.47,"v":25},{"t":861.51,"v":40},{"t":861.55,"v":70},{"t":861.59,"v":30},{"t":861.63,"v":90},{"t":861.66,"v":40},
{"t":861.68,"v":230},{"t":861.685,"v":40},{"t":861.695,"v":380},{"t":861.70,"v":60},{"t":861.705,"v":463},{"t":861.71,"v":50},{"t":861.72,"v":280},{"t":861.73,"v":40},{"t":861.75,"v":200},{"t":861.76,"v":30},
{"t":861.79,"v":90},{"t":861.83,"v":40},{"t":861.87,"v":70},{"t":861.91,"v":25},{"t":861.95,"v":45},{"t":861.99,"v":15},{"t":862.03,"v":35},{"t":862.07,"v":20},{"t":862.11,"v":40},{"t":862.15,"v":15},{"t":862.19,"v":30},{"t":862.23,"v":20},{"t":862.27,"v":45},{"t":862.31,"v":25},{"t":862.35,"v":55},{"t":862.39,"v":30},
{"t":862.415,"v":300},{"t":862.42,"v":30},{"t":862.425,"v":270},{"t":862.43,"v":333},{"t":862.435,"v":40},{"t":862.45,"v":120},{"t":862.46,"v":25},
{"t":862.49,"v":45},{"t":862.53,"v":20},{"t":862.57,"v":55},{"t":862.61,"v":25},{"t":862.65,"v":40},{"t":862.69,"v":60},{"t":862.73,"v":30},{"t":862.77,"v":80},{"t":862.81,"v":40},
{"t":862.83,"v":200},{"t":862.835,"v":40},{"t":862.845,"v":380},{"t":862.85,"v":60},{"t":862.855,"v":449},{"t":862.86,"v":50},{"t":862.87,"v":250},{"t":862.88,"v":40},{"t":862.90,"v":170},{"t":862.91,"v":30},
{"t":862.94,"v":80},{"t":862.98,"v":40},{"t":863.02,"v":65},{"t":863.06,"v":25},{"t":863.10,"v":45},{"t":863.14,"v":15},{"t":863.18,"v":35},{"t":863.22,"v":20},{"t":863.26,"v":40},{"t":863.30,"v":15},{"t":863.34,"v":30},{"t":863.38,"v":20},{"t":863.42,"v":50},{"t":863.46,"v":25},{"t":863.50,"v":40},{"t":863.54,"v":60},{"t":863.58,"v":30},
{"t":863.595,"v":300},{"t":863.60,"v":30},{"t":863.605,"v":270},{"t":863.61,"v":333},{"t":863.615,"v":40},{"t":863.63,"v":120},{"t":863.64,"v":25},
{"t":863.67,"v":40},{"t":863.71,"v":20},{"t":863.75,"v":55},{"t":863.79,"v":25},{"t":863.83,"v":60},{"t":863.87,"v":30},{"t":863.91,"v":45},{"t":863.95,"v":20},{"t":863.99,"v":35},{"t":864.03,"v":55},
{"t":864.06,"v":210},{"t":864.065,"v":30},{"t":864.075,"v":400},{"t":864.08,"v":50},{"t":864.085,"v":526},{"t":864.09,"v":40},{"t":864.10,"v":240},{"t":864.11,"v":30},{"t":864.13,"v":120},{"t":864.14,"v":25},
{"t":864.17,"v":45},{"t":864.21,"v":20},{"t":864.25,"v":40},{"t":864.29,"v":15},{"t":864.33,"v":35},{"t":864.37,"v":20},{"t":864.41,"v":45},{"t":864.45,"v":15},{"t":864.49,"v":30},{"t":864.53,"v":20},{"t":864.57,"v":50},{"t":864.61,"v":25},{"t":864.65,"v":40},{"t":864.69,"v":60},{"t":864.73,"v":30},
{"t":864.765,"v":290},{"t":864.77,"v":30},{"t":864.775,"v":260},{"t":864.78,"v":329},{"t":864.785,"v":40},{"t":864.80,"v":120},{"t":864.81,"v":25},
{"t":864.84,"v":40},{"t":864.88,"v":20},{"t":864.92,"v":55},{"t":864.96,"v":25},{"t":865.00,"v":40},{"t":865.04,"v":15},{"t":865.08,"v":35},{"t":865.12,"v":20},{"t":865.16,"v":45},{"t":865.20,"v":25},{"t":865.24,"v":35},{"t":865.28,"v":60},{"t":865.32,"v":30},{"t":865.36,"v":50},
{"t":865.385,"v":300},{"t":865.39,"v":30},{"t":865.395,"v":270},{"t":865.40,"v":333},{"t":865.405,"v":40},{"t":865.42,"v":120},{"t":865.43,"v":25},
{"t":865.46,"v":40},{"t":865.50,"v":20},{"t":865.54,"v":50},{"t":865.58,"v":25},{"t":865.62,"v":40},{"t":865.66,"v":20},{"t":865.70,"v":55},{"t":865.74,"v":80},
{"t":865.78,"v":220},{"t":865.785,"v":40},{"t":865.795,"v":400},{"t":865.80,"v":50},{"t":865.805,"v":515},{"t":865.81,"v":40},{"t":865.82,"v":250},{"t":865.83,"v":30},{"t":865.85,"v":160},{"t":865.86,"v":30},
{"t":865.89,"v":80},{"t":865.93,"v":40},{"t":865.97,"v":65},{"t":866.01,"v":25},{"t":866.05,"v":45},{"t":866.09,"v":15},{"t":866.13,"v":35},{"t":866.17,"v":20},{"t":866.21,"v":40},{"t":866.25,"v":15},{"t":866.29,"v":30},{"t":866.33,"v":20},{"t":866.37,"v":50},{"t":866.41,"v":25},{"t":866.45,"v":60},{"t":866.49,"v":30},{"t":866.52,"v":45},
{"t":866.535,"v":290},{"t":866.54,"v":30},{"t":866.545,"v":260},{"t":866.55,"v":329},{"t":866.555,"v":40},{"t":866.57,"v":120},{"t":866.58,"v":25},
{"t":866.61,"v":40},{"t":866.65,"v":20},{"t":866.69,"v":55},{"t":866.73,"v":25},{"t":866.77,"v":40},{"t":866.81,"v":15},{"t":866.85,"v":35},{"t":866.89,"v":20},{"t":866.93,"v":45},{"t":866.97,"v":30},{"t":867.01,"v":60},
{"t":867.03,"v":200},{"t":867.035,"v":30},{"t":867.045,"v":390},{"t":867.05,"v":50},{"t":867.055,"v":508},{"t":867.06,"v":40},{"t":867.07,"v":230},{"t":867.08,"v":30},{"t":867.10,"v":120},{"t":867.11,"v":25},
{"t":867.14,"v":45},{"t":867.18,"v":20},{"t":867.22,"v":40},{"t":867.26,"v":15},{"t":867.30,"v":35},{"t":867.34,"v":20},{"t":867.38,"v":45},{"t":867.42,"v":15},{"t":867.46,"v":30},{"t":867.50,"v":20},{"t":867.54,"v":50},{"t":867.58,"v":25},{"t":867.62,"v":40},{"t":867.66,"v":60},{"t":867.70,"v":30},
{"t":867.735,"v":290},{"t":867.74,"v":30},{"t":867.745,"v":260},{"t":867.75,"v":325},{"t":867.755,"v":40},{"t":867.77,"v":120},{"t":867.78,"v":25},
{"t":867.81,"v":40},{"t":867.85,"v":20},{"t":867.89,"v":55},{"t":867.93,"v":25},{"t":867.97,"v":40},{"t":868.01,"v":15},{"t":868.05,"v":35},{"t":868.09,"v":20},{"t":868.13,"v":45},{"t":868.17,"v":25},{"t":868.21,"v":35},{"t":868.25,"v":60},{"t":868.29,"v":30},{"t":868.33,"v":50},
{"t":868.355,"v":300},{"t":868.36,"v":30},{"t":868.365,"v":270},{"t":868.37,"v":333},{"t":868.375,"v":40},{"t":868.39,"v":120},{"t":868.40,"v":25},
{"t":868.43,"v":40},{"t":868.47,"v":20},{"t":868.51,"v":50},{"t":868.55,"v":25},{"t":868.59,"v":40},{"t":868.63,"v":20},{"t":868.67,"v":45},{"t":868.71,"v":70},
{"t":868.74,"v":200},{"t":868.745,"v":40},{"t":868.755,"v":420},{"t":868.76,"v":50},{"t":868.765,"v":474},{"t":868.77,"v":60},{"t":868.78,"v":300},{"t":868.79,"v":40},{"t":868.81,"v":200},{"t":868.82,"v":50},
{"t":868.85,"v":120},{"t":868.89,"v":60},{"t":868.93,"v":100},{"t":868.97,"v":40},{"t":869.00,"v":60}
],
"slt": [
{"t":849.00,"v":55},{"t":849.61,"v":45},{"t":849.61,"v":220},{"t":849.63,"v":220},{"t":849.66,"v":62},{"t":850.05,"v":48},{"t":850.09,"v":48},{"t":850.09,"v":110},
{"t":850.20,"v":110},{"t":850.24,"v":100},{"t":850.74,"v":47},{"t":850.78,"v":47},{"t":850.78,"v":226},
{"t":850.80,"v":226},{"t":850.82,"v":98},{"t":851.18,"v":98},{"t":851.18,"v":155},
{"t":851.30,"v":155},{"t":851.34,"v":140},{"t":851.90,"v":47},{"t":851.94,"v":47},{"t":851.94,"v":232},
{"t":851.96,"v":232},{"t":851.98,"v":133},{"t":852.20,"v":133},{"t":852.28,"v":98},{"t":852.39,"v":98},{"t":852.39,"v":213},
{"t":852.50,"v":213},{"t":852.56,"v":170},{"t":852.70,"v":100},{"t":853.05,"v":50},{"t":853.09,"v":50},{"t":853.09,"v":238},
{"t":853.20,"v":238},{"t":853.26,"v":200},{"t":853.40,"v":100},{"t":853.64,"v":50},{"t":853.68,"v":50},{"t":853.68,"v":228},
{"t":853.80,"v":228},{"t":853.86,"v":180},{"t":854.05,"v":152},{"t":854.11,"v":152},
{"t":854.25,"v":152},{"t":854.30,"v":140},{"t":854.82,"v":48},{"t":854.86,"v":48},{"t":854.86,"v":236},
{"t":854.97,"v":236},{"t":855.02,"v":180},{"t":855.15,"v":140},{"t":855.26,"v":135},
{"t":855.32,"v":135},{"t":855.38,"v":130},{"t":855.98,"v":47},{"t":856.03,"v":47},{"t":856.03,"v":228},
{"t":856.12,"v":228},{"t":856.20,"v":170},{"t":856.38,"v":150},{"t":856.44,"v":150},
{"t":856.55,"v":150},{"t":856.60,"v":140},{"t":857.12,"v":45},{"t":857.17,"v":45},{"t":857.17,"v":231},
{"t":857.25,"v":231},{"t":857.35,"v":137},{"t":857.58,"v":60},{"t":857.78,"v":50},{"t":857.78,"v":290},
{"t":857.81,"v":290},{"t":857.83,"v":192},{"t":857.98,"v":192},{"t":858.05,"v":120},{"t":858.33,"v":55},{"t":858.37,"v":55},{"t":858.37,"v":221},
{"t":858.45,"v":221},{"t":858.55,"v":159},{"t":858.84,"v":150},{"t":858.84,"v":185},
{"t":858.98,"v":185},{"t":859.03,"v":170},{"t":859.49,"v":60},{"t":859.53,"v":60},{"t":859.53,"v":243},
{"t":859.62,"v":243},{"t":859.72,"v":137},{"t":859.85,"v":110},{"t":860.09,"v":90},{"t":860.09,"v":263},
{"t":860.17,"v":263},{"t":860.26,"v":170},{"t":860.52,"v":162},
{"t":860.58,"v":162},{"t":860.62,"v":150},{"t":861.25,"v":50},{"t":861.29,"v":50},{"t":861.29,"v":259},
{"t":861.37,"v":259},{"t":861.45,"v":160},{"t":861.70,"v":141},
{"t":861.79,"v":141},{"t":861.83,"v":130},{"t":862.40,"v":47},{"t":862.43,"v":47},{"t":862.43,"v":246},
{"t":862.51,"v":246},{"t":862.58,"v":150},{"t":862.85,"v":128},
{"t":862.92,"v":128},{"t":862.97,"v":120},{"t":863.57,"v":50},{"t":863.61,"v":50},{"t":863.61,"v":245},
{"t":863.68,"v":245},{"t":863.78,"v":150},{"t":864.04,"v":120},{"t":864.08,"v":120},{"t":864.08,"v":228},
{"t":864.14,"v":228},{"t":864.20,"v":226},{"t":864.49,"v":154},{"t":864.74,"v":77},{"t":864.78,"v":77},{"t":864.78,"v":243},
{"t":864.86,"v":243},{"t":864.94,"v":170},{"t":865.10,"v":110},{"t":865.36,"v":50},{"t":865.40,"v":50},{"t":865.40,"v":245},
{"t":865.48,"v":245},{"t":865.55,"v":200},{"t":865.72,"v":190},{"t":865.80,"v":185},
{"t":865.90,"v":188},{"t":865.96,"v":170},{"t":866.15,"v":90},{"t":866.51,"v":50},{"t":866.55,"v":50},{"t":866.55,"v":251},
{"t":866.62,"v":251},{"t":866.72,"v":200},{"t":866.90,"v":190},{"t":867.05,"v":185},
{"t":867.14,"v":185},{"t":867.20,"v":170},{"t":867.40,"v":80},{"t":867.71,"v":50},{"t":867.75,"v":50},{"t":867.75,"v":233},
{"t":867.83,"v":233},{"t":867.90,"v":180},{"t":868.10,"v":100},{"t":868.33,"v":50},{"t":868.37,"v":50},{"t":868.37,"v":246},
{"t":868.45,"v":246},{"t":868.55,"v":200},{"t":868.70,"v":182},{"t":868.76,"v":180},
{"t":868.85,"v":180},{"t":868.92,"v":160},{"t":869.00,"v":120}
],
"tlabels": [{"t":855.52,"v":84,"txt":"ATP"},{"t":857.72,"v":-96,"txt":"ATN"}],
"tarrows": [{"k":"ATP","x1":855.57,"y1":72,"x2":855.23,"y2":56},{"k":"ATN","x1":857.34,"y1":-83,"x2":856.98,"y2":-68}],
"blabels": [{"t":855.78,"v":377,"txt":"SLT"}],
"barrows": [{"k":"SLT","x1":855.68,"y1":328,"x2":855.23,"y2":243}]
},
"vconcat": [
{
 "width": 849, "height": 205,
 "layer": [
  {"data": {"name": "ecg"}, "mark": {"type": "line", "color": "#5a5a5a", "strokeWidth": 1, "clip": true},
   "encoding": {
    "x": {"field": "t", "type": "quantitative", "scale": {"domain": [849, 869], "nice": false, "zero": false},
          "axis": {"orient": "bottom", "labels": false, "title": null, "values": [849,850,851,852,853,854,855,856,857,858,859,860,861,862,863,864,865,866,867,868,869]}},
    "y": {"field": "v", "type": "quantitative", "scale": {"domain": [-114, 114], "nice": false, "zero": false},
          "axis": {"orient": "left", "values": [-100,-50,0,50,100], "title": ["ECG", "(ADC units)"], "titleX": -83, "titleY": 102.5, "titleBaseline": "middle", "titleAngle": 270, "titleAlign": "center", "titleLineHeight": 20}},
    "order": {"value": null}}},
  {"data": {"values": [{"b": -12}]}, "mark": {"type": "rule", "color": "#999", "strokeWidth": 1},
   "encoding": {"y": {"field": "b", "type": "quantitative", "axis": null}}},
  {"data": {"name": "atn"}, "mark": {"type": "line", "color": "#333", "strokeWidth": 1.3, "strokeDash": [4, 3], "clip": true},
   "encoding": {
    "x": {"field": "t", "type": "quantitative", "axis": {"orient": "top", "labels": false, "title": null, "values": [849,850,851,852,853,854,855,856,857,858,859,860,861,862,863,864,865,866,867,868,869]}},
    "y": {"field": "v", "type": "quantitative", "axis": {"orient": "right", "labels": false, "title": null, "values": [-100,-50,0,50,100]}},
    "order": {"value": null}}},
  {"data": {"name": "atp"}, "mark": {"type": "line", "color": "#333", "strokeWidth": 1.3, "strokeDash": [4, 3], "clip": true},
   "encoding": {
    "x": {"field": "t", "type": "quantitative", "axis": null},
    "y": {"field": "v", "type": "quantitative", "axis": null},
    "order": {"value": null}}},
  {"data": {"name": "beats"}, "mark": {"type": "point", "shape": "circle", "filled": false, "stroke": "#e05a5a", "strokeWidth": 1.3, "size": 80},
   "encoding": {"x": {"field": "t", "type": "quantitative", "axis": null}, "y": {"field": "top", "type": "quantitative", "axis": null}}},
  {"data": {"name": "beats"}, "mark": {"type": "rule", "color": "#333", "strokeWidth": 1.3, "xOffset": 3},
   "encoding": {"x": {"field": "t", "type": "quantitative", "axis": null}, "y": {"datum": 110.5, "axis": null}, "y2": {"datum": 131}}},
  {"data": {"name": "beats"}, "mark": {"type": "text", "align": "left", "baseline": "middle", "fontSize": 16, "color": "#222", "dx": 1.5},
   "encoding": {"x": {"field": "t", "type": "quantitative", "axis": null}, "y": {"datum": 132, "axis": null}, "text": {"field": "lab"}}},
  {"data": {"values": [{"txt": "Annotation"}]}, "mark": {"type": "text", "align": "left", "baseline": "middle", "fontSize": 17, "color": "#222", "dx": -72},
   "encoding": {"x": {"datum": 849, "axis": null}, "y": {"datum": 132, "axis": null}, "text": {"field": "txt"}}},
  {"data": {"name": "tlabels"}, "mark": {"type": "text", "fontSize": 16, "fontWeight": "bold", "color": "#111", "baseline": "middle"},
   "encoding": {"x": {"field": "t", "type": "quantitative", "axis": null}, "y": {"field": "v", "type": "quantitative", "axis": null}, "text": {"field": "txt"}}},
  {"data": {"name": "tarrows"}, "mark": {"type": "rule", "color": "#111", "strokeWidth": 1.3},
   "encoding": {"x": {"field": "x1", "type": "quantitative", "axis": null}, "y": {"field": "y1", "type": "quantitative", "axis": null}, "x2": {"field": "x2"}, "y2": {"field": "y2"}}},
  {"data": {"name": "tarrows"}, "transform": [{"filter": "datum.k == 'ATP'"}], "mark": {"type": "point", "shape": "triangle", "filled": true, "color": "#111", "size": 45, "angle": 223, "opacity": 1},
   "encoding": {"x": {"field": "x2", "type": "quantitative", "axis": null}, "y": {"field": "y2", "type": "quantitative", "axis": null}}},
  {"data": {"name": "tarrows"}, "transform": [{"filter": "datum.k == 'ATN'"}], "mark": {"type": "point", "shape": "triangle", "filled": true, "color": "#111", "size": 45, "angle": 313, "opacity": 1},
   "encoding": {"x": {"field": "x2", "type": "quantitative", "axis": null}, "y": {"field": "y2", "type": "quantitative", "axis": null}}}
 ],
 "resolve": {"axis": {"x": "independent", "y": "independent"}}
},
{
 "width": 849, "height": 205,
 "layer": [
  {"data": {"name": "slope"}, "mark": {"type": "line", "color": "#333", "strokeWidth": 1, "clip": true},
   "encoding": {
    "x": {"field": "t", "type": "quantitative", "scale": {"domain": [849, 869], "nice": false, "zero": false},
          "axis": {"orient": "bottom", "title": "Time (s)", "titleFontSize": 17, "titlePadding": 12, "labelPadding": 12, "labelFont": "Liberation Sans Narrow", "labelFontSize": 17, "values": [849,850,851,852,853,854,855,856,857,858,859,860,861,862,863,864,865,866,867,868,869]}},
    "y": {"field": "v", "type": "quantitative", "scale": {"domain": [5, 531], "nice": false, "zero": false},
          "axis": {"orient": "left", "values": [100,200,300,400,500], "title": ["ECG Slope", "(ADC units)"], "titleX": -83, "titleY": 102.5, "titleBaseline": "middle", "titleAngle": 270, "titleAlign": "center", "titleLineHeight": 20}},
    "order": {"value": null}}},
  {"data": {"name": "slt"}, "mark": {"type": "line", "color": "#444", "strokeWidth": 1.3, "strokeDash": [4, 3], "clip": true},
   "encoding": {
    "x": {"field": "t", "type": "quantitative", "axis": {"orient": "top", "labels": false, "title": null, "values": [849,850,851,852,853,854,855,856,857,858,859,860,861,862,863,864,865,866,867,868,869]}},
    "y": {"field": "v", "type": "quantitative", "axis": {"orient": "right", "labels": false, "title": null, "values": [100,200,300,400,500]}},
    "order": {"value": null}}},
  {"data": {"name": "beats"}, "mark": {"type": "point", "shape": "circle", "filled": false, "stroke": "#444", "strokeWidth": 1.3, "size": 95},
   "encoding": {"x": {"field": "t", "type": "quantitative", "axis": null}, "y": {"field": "sc", "type": "quantitative", "axis": null}}},
  {"data": {"name": "blabels"}, "mark": {"type": "text", "fontSize": 16, "fontWeight": "bold", "color": "#111", "baseline": "middle"},
   "encoding": {"x": {"field": "t", "type": "quantitative", "axis": null}, "y": {"field": "v", "type": "quantitative", "axis": null}, "text": {"field": "txt"}}},
  {"data": {"name": "barrows"}, "mark": {"type": "rule", "color": "#111", "strokeWidth": 1.3},
   "encoding": {"x": {"field": "x1", "type": "quantitative", "axis": null}, "y": {"field": "y1", "type": "quantitative", "axis": null}, "x2": {"field": "x2"}, "y2": {"field": "y2"}}},
  {"data": {"name": "barrows"}, "mark": {"type": "point", "shape": "triangle", "filled": true, "color": "#111", "size": 45, "angle": 210, "opacity": 1},
   "encoding": {"x": {"field": "x2", "type": "quantitative", "axis": null}, "y": {"field": "y2", "type": "quantitative", "axis": null}}}
 ],
 "resolve": {"axis": {"x": "independent", "y": "independent"}}
}
]
}
